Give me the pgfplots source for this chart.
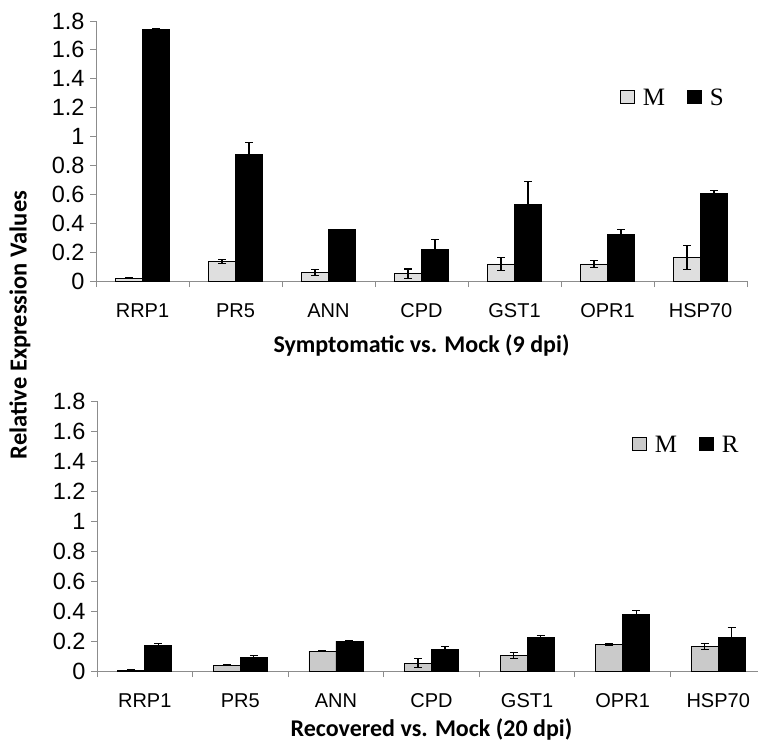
\documentclass[border=0pt]{standalone}
\usepackage{fontspec}
\setmainfont{Liberation Sans}
\newfontfamily\calib{Carlito}
\newfontfamily\serifrm{Liberation Serif}
\usepackage{pgfplots}
\usepackage{pgfplotstable}
\pgfplotsset{compat=1.18}

\definecolor{mockA}{HTML}{DFDFDF}
\definecolor{mockB}{HTML}{CACACA}
\definecolor{axgray}{HTML}{8C8C8C}

% x  mock  err  treated  err
\pgfplotstableread{
x M Me T Te
0 0.020 0.005 1.743 0.003
1 0.136 0.015 0.873 0.085
2 0.060 0.020 0.357 0.000
3 0.050 0.033 0.221 0.065
4 0.118 0.045 0.530 0.157
5 0.118 0.025 0.325 0.032
6 0.163 0.085 0.606 0.020
}\symptdata

\pgfplotstableread{
x M Me T Te
0 0.005 0.002 0.168 0.018
1 0.038 0.003 0.091 0.010
2 0.133 0.002 0.200 0.004
3 0.051 0.030 0.144 0.020
4 0.102 0.020 0.222 0.013
5 0.178 0.008 0.377 0.027
6 0.164 0.020 0.226 0.064
}\recovdata

\pgfplotsset{
  panel/.style={
    scale only axis,
    clip=false,
    anchor=south west,
    ybar=0pt,
    bar width=27pt,
    ymin=0, ymax=1.8,
    xmin=-0.5, xmax=6.5,
    ytick={0,0.2,0.4,0.6,0.8,1,1.2,1.4,1.6,1.8},
    xtick={0,1,2,3,4,5,6},
    xticklabels={RRP1,PR5,ANN,CPD,GST1,OPR1,HSP70},
    minor xtick={-0.5,0.5,1.5,2.5,3.5,4.5,5.5,6.5},
    major x tick style={draw=none},
    tick align=outside,
    major tick length=6pt,
    minor tick length=6pt,
    axis x line*=bottom,
    axis y line*=left,
    axis line style={axgray, line width=0.9pt},
    tick style={axgray, line width=0.9pt},
    xticklabel style={font=\fontsize{20}{24}\selectfont, yshift=-13pt},
    yticklabel style={font=\fontsize{23.5}{27}\selectfont,
      /pgf/number format/fixed, xshift=-2pt},
    /pgf/number format/assume math mode=true,
    legend image code/.code={
      \draw[#1, line width=0.8pt] (0pt,-5pt) rectangle (14pt,8pt);},
    legend style={draw=none, fill=none, legend columns=2, anchor=west,
      font=\serifrm\fontsize{25}{28}\selectfont,
      /tikz/every odd column/.append style={column sep=6pt},
      /tikz/every even column/.append style={column sep=20pt}},
  },
  errs/.style={
    error bars/y dir=both,
    error bars/y explicit,
    error bars/error bar style={black, line width=1.2pt},
    error bars/error mark options={rotate=90, mark size=4pt, line width=1.2pt, black},
  },
}

\begin{document}
\begin{tikzpicture}
\useasboundingbox (0pt,0pt) rectangle (758pt,748pt);

% top panel: symptomatic vs mock
\begin{axis}[panel, at={(96pt,467pt)}, width=651pt, height=260pt,
  legend style={at={(0.8,0.704)}}]
\addplot[draw=black, line width=0.8pt, fill=mockA, errs]
  table[x=x, y=M, y error=Me] {\symptdata};
\addplot[draw=black, line width=0.8pt, fill=black, errs]
  table[x=x, y=T, y error=Te] {\symptdata};
\legend{M, S}
\node[font=\calib\bfseries\fontsize{24}{28}\selectfont]
  at (rel axis cs:0.5,0) [yshift=-64pt] {Symptomatic vs. Mock (9 dpi)};
\end{axis}

% bottom panel: recovered vs mock
\begin{axis}[panel, at={(97pt,77pt)}, width=669pt, height=270pt,
  legend style={at={(0.795,0.837)}}]
\addplot[draw=black, line width=0.8pt, fill=mockB, errs]
  table[x=x, y=M, y error=Me] {\recovdata};
\addplot[draw=black, line width=0.8pt, fill=black, errs]
  table[x=x, y=T, y error=Te] {\recovdata};
\legend{M, R}
\node[font=\calib\bfseries\fontsize{24}{28}\selectfont]
  at (rel axis cs:0.5,0) [yshift=-58pt] {Recovered vs. Mock (20 dpi)};
\end{axis}

\node[rotate=90, font=\calib\bfseries\fontsize{24.5}{28}\selectfont]
  at (20pt,423pt) {Relative Expression Values};
\end{tikzpicture}
\end{document}
